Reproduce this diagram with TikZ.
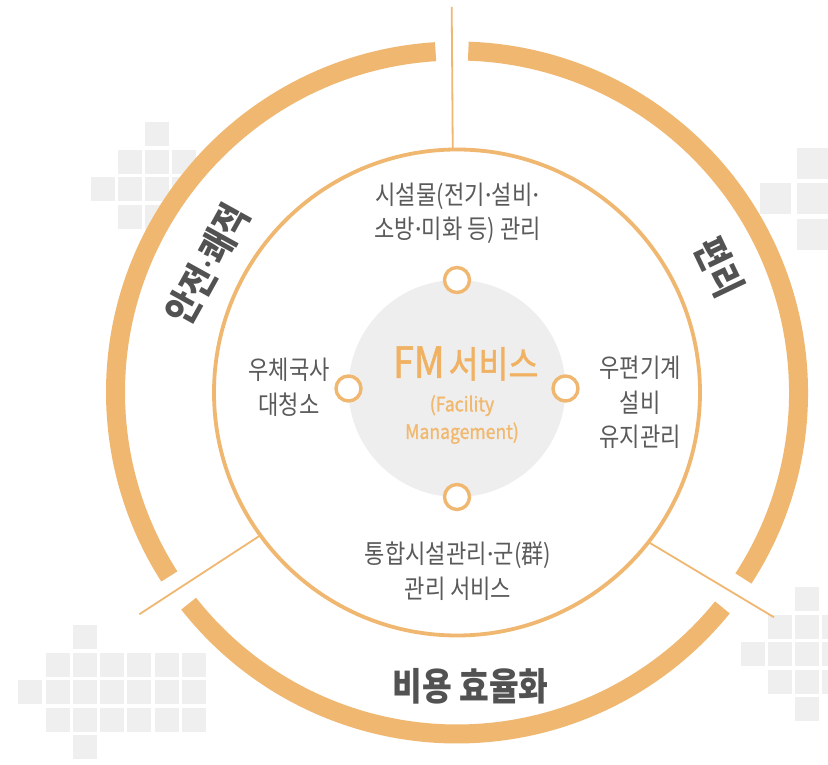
\documentclass[tikz,border=0pt]{standalone}
\usepackage{fontspec}
\newfontfamily\kr{Noto Sans CJK KR}[FakeStretch=0.85]
\newfontfamily\krfm{Noto Sans CJK KR}[FakeStretch=0.88, FakeBold=1.2]
\newfontfamily\latn{Noto Sans}
\newcommand{\mdot}{{\latn ·}}
\definecolor{fmorange}{RGB}{240,183,112}
\definecolor{fmtext}{RGB}{240,178,98}
\definecolor{fmsub}{RGB}{241,184,110}
\definecolor{sqgray}{RGB}{239,239,239}
\definecolor{coregray}{RGB}{238,238,238}
\definecolor{labelgray}{RGB}{90,90,90}
\definecolor{titlegray}{RGB}{82,82,82}
\begin{document}
\begin{tikzpicture}[x=1pt,y=1pt,
  ringarc/.style={draw=fmorange, line width=19pt},
  thinline/.style={draw=fmorange, line width=1.8pt},
  dotring/.style={circle, draw=fmorange, line width=3.4pt, fill=white, minimum size=25pt, inner sep=0pt},
  lbl/.style={align=center, inner sep=0pt, text=labelgray, font=\kr\fontsize{26}{34.5}\selectfont},
  ttl/.style={inner sep=0pt, text=titlegray, font=\kr\bfseries\fontsize{38}{40}\selectfont}]
\useasboundingbox (0,0) rectangle (828,765);
\fill[white] (0,0) rectangle (828,765);
% background squares
\foreach \x/\y in {145/122, 118/150, 145/150, 172/150, 91/177, 118/177, 145/177, 172/177, 118/205, 145/205, 172/205}
  \fill[sqgray] (\x,765-\y) rectangle ++(24,-24);
\foreach \x/\y in {796.7/148, 760/183.5, 796.7/183.5, 796.7/219}
  \fill[sqgray] (\x,765-\y) rectangle ++(31,-31);
\foreach \x/\y in {72.7/625, 45.5/653, 72.7/653, 100/653, 127.3/653, 154.6/653, 181.9/653,
  18.3/680, 45.5/680, 72.7/680, 100/680, 127.3/680, 154.6/680, 181.9/680,
  45.5/708, 72.7/708, 100/708, 127.3/708, 154.6/708, 181.9/708, 72.7/735}
  \fill[sqgray] (\x,765-\y) rectangle ++(24,-24);
\foreach \x/\y in {795/587.3, 768.3/615, 795/615, 822/615, 741/642, 768.3/642, 795/642, 822/642,
  768.3/670, 795/670, 822/670, 795/697}
  \fill[sqgray] (\x,765-\y) rectangle ++(24,-24);
% centre and white disc
\coordinate (C) at (457,372.5);
\fill[white] (C) circle (351);
% outer arcs
\draw[ringarc] (C) ++(93.6:341.5) arc[start angle=93.6, end angle=212.6, radius=341.5];
\draw[ringarc] (C) ++(218.2:341.5) arc[start angle=218.2, end angle=321, radius=341.5];
\draw[ringarc] (C) ++(327:341.5) arc[start angle=327, end angle=448.1, radius=341.5];
% inner circle
\node[circle, draw=fmorange, line width=3.8pt, minimum size=486pt, inner sep=0pt, outer sep=0pt] (inner) at (C) {};
% connectors
\coordinate (topEnd) at (451.7,758);
\coordinate (llEnd) at (139.3,150.7);
\coordinate (lrEnd) at (774,147.7);
\draw[thinline] (inner.91.25) -- (topEnd);
\draw[thinline] (inner.216.6) -- (llEnd);
\draw[thinline] (inner.322.7) -- (lrEnd);
% core
\node[circle, fill=coregray, minimum size=217pt, inner sep=0pt, outer sep=0pt] (core) at (457,376.5) {};
\node[dotring] (dotN) at (core.north) {};
\node[dotring] (dotS) at (core.south) {};
\node[dotring] (dotW) at (core.west) {};
\node[dotring] (dotE) at (core.east) {};
\node[inner sep=0pt, text=fmtext, font=\krfm] (fm) at (465.7,401.5) {\fontsize{43}{45}\selectfont FM\hspace{4pt}\fontsize{37}{45}\selectfont 서비스};
\node[align=center, inner sep=0pt, text=fmsub, font=\krfm\fontsize{20}{27.5}\selectfont] (fmsub) at (462,345.5) {(Facility\\Management)};
% labels
\node[lbl] (lblN) at (457.5,551.75) {시설물(전기\mdot 설비\mdot\\소방\mdot 미화 등) 관리};
\node[lbl] (lblW) at (289,377.75) {우체국사\\대청소};
\node[lbl] (lblE) at (640,362.5) {우편기계\\설비\\유지관리};
\node[lbl] (lblS) at (458,194) {통합시설관리\mdot 군(群)\\관리 서비스};
% titles
\node[ttl, rotate=61] (tW) at (207.5,500.5) {안전\mdot 쾌적};
\node[ttl, rotate=-64.5] (tE) at (719,498) {편리};
\node[ttl] (tS) at (470.5,79) {비용 효율화};
\end{tikzpicture}
\end{document}
